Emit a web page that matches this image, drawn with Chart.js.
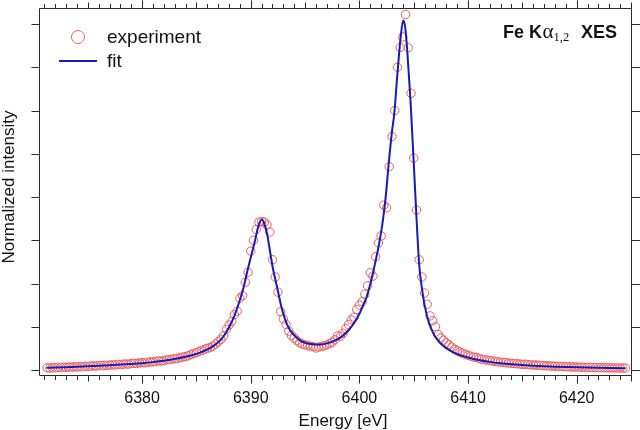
<!DOCTYPE html>
<html><head><meta charset="utf-8">
<script src="https://cdn.jsdelivr.net/npm/chart.js@4.4.0/dist/chart.umd.min.js"></script>
<style>html,body{margin:0;padding:0;background:#fff}canvas{display:block}</style>
</head><body>
<canvas id="c" width="640" height="430"></canvas>
<script>
// Experimental points (energy in eV, normalized intensity)
const expE = [
        6371.25,6371.5,6371.75,
6372,6372.25,6372.5,6372.75,
6373,6373.25,6373.5,6373.75,
6374,6374.25,6374.5,6374.75,
6375,6375.25,6375.5,6375.75,
6376,6376.25,6376.5,6376.75,
6377,6377.25,6377.5,6377.75,
6378,6378.25,6378.5,6378.75,
6379,6379.25,6379.5,6379.75,
6380,6380.25,6380.5,6380.75,
6381,6381.25,6381.5,6381.75,
6382,6382.25,6382.5,6382.75,
6383,6383.25,6383.5,6383.75,
6384,6384.25,6384.5,6384.75,
6385,6385.25,6385.5,6385.75,
6386,6386.25,6386.5,6386.75,
6387,6387.25,6387.5,6387.75,
6388,6388.25,6388.5,6388.75,
6389,6389.25,6389.5,6389.75,
6390,6390.25,6390.5,6390.75,
6391,6391.25,6391.5,6391.75,
6392,6392.25,6392.5,6392.75,
6393,6393.25,6393.5,6393.75,
6394,6394.25,6394.5,6394.75,
6395,6395.25,6395.5,6395.75,
6396,6396.25,6396.5,6396.75,
6397,6397.25,6397.5,6397.75,
6398,6398.25,6398.5,6398.75,
6399,6399.25,6399.5,6399.75,
6400,6400.25,6400.5,6400.75,
6401,6401.25,6401.5,6401.75,
6402,6402.25,6402.5,6402.75,
6403,6403.25,6403.5,6403.75,
6404,6404.25,6404.5,6404.75,
6405,6405.25,6405.5,6405.75,
6406,6406.25,6406.5,6406.75,
6407,6407.25,6407.5,6407.75,
6408,6408.25,6408.5,6408.75,
6409,6409.25,6409.5,6409.75,
6410,6410.25,6410.5,6410.75,
6411,6411.25,6411.5,6411.75,
6412,6412.25,6412.5,6412.75,
6413,6413.25,6413.5,6413.75,
6414,6414.25,6414.5,6414.75,
6415,6415.25,6415.5,6415.75,
6416,6416.25,6416.5,6416.75,
6417,6417.25,6417.5,6417.75,
6418,6418.25,6418.5,6418.75,
6419,6419.25,6419.5,6419.75,
6420,6420.25,6420.5,6420.75,
6421,6421.25,6421.5,6421.75,
6422,6422.25,6422.5,6422.75,
6423,6423.25,6423.5,6423.75,
6424,6424.25,6424.5
];
const expI = [
      0.005,0.0045,0.0055,
0.005,0.006,0.0055,0.0065,
0.006,0.007,0.0065,0.0075,
0.007,0.008,0.0075,0.0085,
0.008,0.009,0.0095,0.009,
0.0105,0.010,0.011,0.0105,
0.0115,0.012,0.0115,0.013,
0.0125,0.0135,0.014,0.0135,
0.015,0.0155,0.015,0.0165,
0.017,0.0165,0.018,0.0185,
0.019,0.0195,0.021,0.0205,
0.022,0.0235,0.024,0.025,
0.026,0.027,0.0285,0.030,
0.031,0.033,0.036,0.038,
0.040,0.043,0.045,0.048,
0.050,0.052,0.055,0.060,
0.065,0.071,0.079,0.094,
0.104,0.112,0.128,0.136,
0.166,0.172,0.203,0.226,
0.275,0.300,0.325,0.342,
0.343,0.342,0.335,0.319,
0.255,0.215,0.180,0.135,
0.118,0.105,0.090,0.080,
0.074,0.068,0.063,0.060,
0.058,0.057,0.055,0.054,
0.051,0.053,0.055,0.056,
0.058,0.061,0.064,0.070,
0.079,0.078,0.085,0.096,
0.105,0.116,0.122,0.140,
0.150,0.158,0.175,0.195,
0.225,0.217,0.262,0.294,
0.310,0.381,0.375,0.470,
0.540,0.600,0.700,0.746,
0.770,0.822,0.745,0.640,
0.490,0.370,0.255,0.215,
0.178,0.152,0.125,0.114,
0.100,0.082,0.074,0.069,
0.063,0.058,0.053,0.048,
0.045,0.042,0.039,0.036,
0.034,0.032,0.030,0.029,
0.027,0.025,0.024,0.023,
0.022,0.021,0.020,0.019,
0.018,0.0175,0.017,0.016,
0.0155,0.015,0.0145,0.014,
0.013,0.0135,0.0125,0.012,
0.0115,0.0115,0.011,0.0105,
0.010,0.0098,0.0092,0.009,
0.0088,0.0085,0.008,0.0082,
0.0077,0.0075,0.0072,0.007,
0.0068,0.0066,0.0064,0.0062,
0.006,0.006,0.0058,0.0056,
0.0055,0.0054,0.0052,0.0051,
0.005,0.0049,0.0048,0.0047,
0.0046,0.0045,0.0045
];
// Fit curve
const fitE = [
6371.2,6372,6373,6374,6375,6376,6377,6378,6379,6380,
6381,6382,6383,6384,6385,6385.5,6386,6386.5,6387,6387.5,
6388,6388.5,6389,6389.35,6389.7,6390,6390.4,6390.7,6391.03,6391.25,
6391.5,6391.75,6392,6392.4,6392.9,6393.3,6393.65,6394,6394.5,6395,
6395.5,6396,6396.5,6397,6397.5,6398,6398.5,6399,6399.5,6400,
6400.35,6400.65,6401,6401.3,6401.6,6401.8,6402.1,6402.4,6402.7,6403,
6403.2,6403.5,6403.8,6404.03,6404.2,6404.4,6404.7,6405,6405.25,6405.5,
6405.75,6406,6406.4,6406.8,6407.2,6407.7,6408.2,6409,6410,6411,
6412,6413,6414,6415,6416,6417,6418,6419,6420,6421,
6422,6423,6424.5
];
const fitI = [
0.0050,0.0056,0.0065,0.0075,0.0087,0.0100,0.0112,0.0125,0.0140,0.0158,
0.0182,0.0212,0.0255,0.0305,0.0372,0.0420,0.0475,0.0545,0.0640,0.0780,
0.0990,0.1260,0.1620,0.1920,0.2300,0.2600,0.3000,0.3330,0.3480,0.3380,
0.3150,0.2780,0.2400,0.1940,0.1380,0.1080,0.0910,0.0800,0.0690,0.0630,
0.0600,0.0590,0.0592,0.0615,0.0655,0.0715,0.0800,0.0920,0.1080,0.1300,
0.1500,0.1680,0.1980,0.2300,0.2650,0.2900,0.3350,0.3950,0.4780,0.5520,
0.5900,0.6850,0.7700,0.8080,0.7950,0.7400,0.6250,0.4800,0.3550,0.2450,
0.1900,0.1500,0.1090,0.0850,0.0690,0.0560,0.0470,0.0365,0.0290,0.0230,
0.0188,0.0157,0.0133,0.0115,0.0100,0.0088,0.0078,0.0069,0.0062,0.0056,
0.0051,0.0047,0.0042
];
const xTickValues = [6380,6390,6400,6410,6420];
const xTickLabels = ['6380','6390','6400','6410','6420'];
const yTickValues = [0,0.1,0.2,0.3,0.4,0.5,0.6,0.7,0.8];
const xTitle = 'Energy [eV]';
const yTitle = 'Normalized intensity';
const seriesNames = ['experiment','fit'];

const RED = '#ee5c5c';
const BLUE = '#1a1ab4';
const AXIS = '#2a2a2a';
const SANS = '"Liberation Sans", Arial, Helvetica, sans-serif';
const SERIF = '"Liberation Serif", "Times New Roman", serif';

const decor = {
  id: 'decor',
  afterDatasetsDraw(chart) {
    const ctx = chart.ctx, a = chart.chartArea, xs = chart.scales.x, ys = chart.scales.y;
    ctx.save();
    ctx.strokeStyle = AXIS; ctx.lineWidth = 1;
    const L = Math.round(a.left) - 0.5, R = Math.round(a.right) + 0.5;
    const T = Math.round(a.top) - 0.5, B = Math.round(a.bottom) + 0.5;
    ctx.beginPath();
    ctx.rect(L, T, R - L, B - T);
    // x ticks (top & bottom), minor each eV
    const eStart = Math.ceil(xs.min), eEnd = Math.floor(xs.max);
    for (let e = eStart; e <= eEnd; e++) {
      const px = Math.round(xs.getPixelForValue(e)) + 0.5;
      const len = (e % 10 === 0) ? 8 : (e % 5 === 0 ? 6 : 4.5);
      ctx.moveTo(px, B); ctx.lineTo(px, B + len);
      ctx.moveTo(px, T); ctx.lineTo(px, T - len);
    }
    // y ticks (left & right)
    yTickValues.forEach(v => {
      const py = Math.round(ys.getPixelForValue(v)) + 0.5;
      ctx.moveTo(L, py); ctx.lineTo(L - 8, py);
      ctx.moveTo(R, py); ctx.lineTo(R + 9, py);
    });
    ctx.stroke();

    // x tick labels
    ctx.fillStyle = '#111';
    ctx.font = '16px ' + SANS;
    ctx.textAlign = 'center'; ctx.textBaseline = 'alphabetic';
    xTickValues.forEach((v, i) => {
      ctx.fillText(xTickLabels[i], xs.getPixelForValue(v), 403);
    });
    // axis titles
    ctx.font = '17px ' + SANS;
    ctx.fillText(xTitle, 343, 426);
    ctx.save();
    ctx.translate(14, 187);
    ctx.rotate(-Math.PI / 2);
    ctx.fillText(yTitle, 0, 0);
    ctx.restore();

    // legend
    ctx.textAlign = 'left';
    ctx.strokeStyle = RED; ctx.lineWidth = 1;
    ctx.beginPath(); ctx.arc(78, 37, 6.5, 0, Math.PI * 2); ctx.stroke();
    ctx.strokeStyle = BLUE; ctx.lineWidth = 2;
    ctx.beginPath(); ctx.moveTo(59, 61); ctx.lineTo(97, 61); ctx.stroke();
    ctx.fillStyle = '#111';
    ctx.font = '19px ' + SANS;
    ctx.fillText(seriesNames[0], 107, 43);
    ctx.fillText(seriesNames[1], 107, 67);

    // title: Fe Kα1,2  XES
    let x = 503;
    ctx.font = 'bold 18px ' + SANS;
    ctx.fillText('Fe K', x, 37.5);
    x += ctx.measureText('Fe K').width + 0.5;
    ctx.font = '21px ' + SERIF;
    ctx.fillText('\u03B1', x, 37.5);
    x += ctx.measureText('\u03B1').width;
    ctx.font = '12.5px ' + SERIF;
    ctx.fillText('1,2', x, 40.5);
    ctx.font = 'bold 18px ' + SANS;
    ctx.textAlign = 'right';
    ctx.fillText('XES', 617, 37.5);
    ctx.restore();
  }
};

new Chart(document.getElementById('c').getContext('2d'), {
  type: 'scatter',
  data: {
    datasets: [
      {
        label: seriesNames[1], type: 'line',
        data: fitE.map((x, i) => ({ x: x, y: fitI[i] })),
        borderColor: BLUE, borderWidth: 2, pointRadius: 0,
        cubicInterpolationMode: 'monotone', showLine: true, fill: false
      },
      {
        label: seriesNames[0],
        data: expE.map((x, i) => ({ x: x, y: expI[i] })),
        pointRadius: 4.2, pointStyle: 'circle',
        borderColor: RED, backgroundColor: 'rgba(0,0,0,0)', borderWidth: 1
      }
    ]
  },
  options: {
    responsive: false, animation: false, devicePixelRatio: 1, events: [],
    layout: { padding: { left: 40, right: 9, top: 9, bottom: 55 } },
    scales: {
      x: { type: 'linear', display: false, min: 6370.6, max: 6425 },
      y: { type: 'linear', display: false, min: -0.01156, max: 0.8347 }
    },
    plugins: { legend: { display: false }, tooltip: { enabled: false } }
  },
  plugins: [decor]
});
</script>
</body></html>
